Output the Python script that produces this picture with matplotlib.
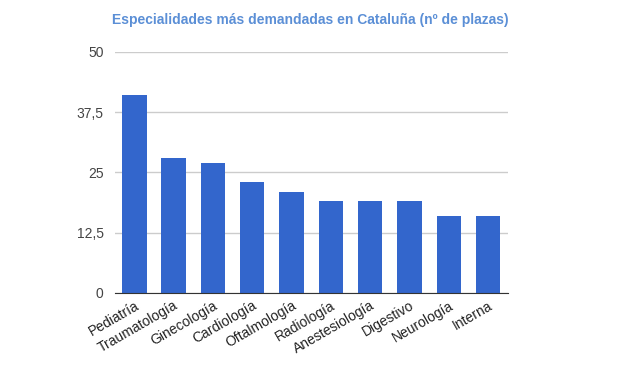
import numpy as np
import matplotlib.pyplot as plt

especialidades = ['Pediatría', 'Traumatología', 'Ginecología', 'Cardiología', 'Oftalmología',
                  'Radiología', 'Anestesiología', 'Digestivo', 'Neurología', 'Interna']
plazas = [41, 28, 27, 23, 21, 19, 19, 19, 16, 16]
yticks = [0, 12.5, 25, 37.5, 50]
ylabels = ['0', '12,5', '25', '37,5', '50']

plt.rcParams['font.family'] = ['Liberation Sans', 'DejaVu Sans']

fig = plt.figure(figsize=(6.2, 3.68), dpi=100)
ax = fig.add_axes([0.185, 0.204, 0.634, 0.655])

x = np.arange(len(especialidades))
ax.bar(x, plazas, width=0.62, color='#3366cc', zorder=3)

ax.set_ylim(0, 50)
ax.set_xlim(-0.5, len(especialidades) - 0.5)
ax.set_yticks(yticks)
ax.set_yticklabels(ylabels, fontsize=10, color='#444444')
ax.set_xticks(x)
ax.set_xticklabels(especialidades, rotation=30, ha='right', rotation_mode='anchor',
                   fontsize=10, color='#222222')
ax.tick_params(length=0, pad=8)
ax.tick_params(axis='x', pad=4)
ax.grid(axis='y', color='#cccccc', linewidth=1, zorder=0)
for s in ['top', 'right', 'left']:
    ax.spines[s].set_visible(False)
ax.spines['bottom'].set_color('#333333')
ax.spines['bottom'].set_zorder(4)

fig.text(0.5, 0.945, 'Especialidades más demandadas en Cataluña (nº de plazas)',
         ha='center', va='center', fontsize=10, fontweight='bold', color='#5b8fd6')

fig.savefig('out.png', dpi=100)
